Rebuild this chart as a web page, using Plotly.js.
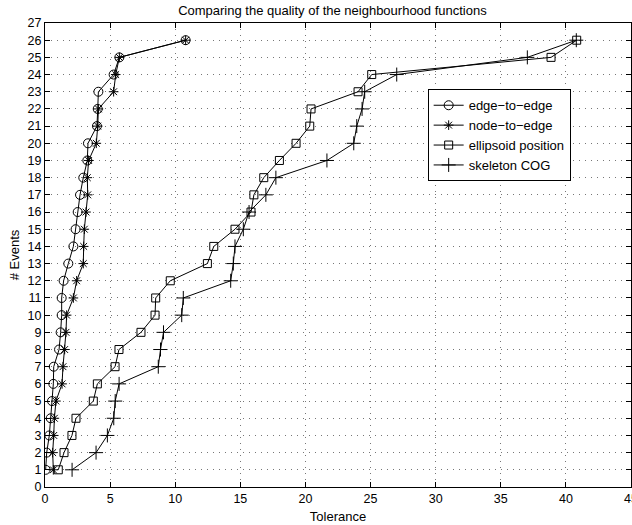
<!DOCTYPE html>
<html>
<head>
<meta charset="utf-8">
<script src="https://cdn.plot.ly/plotly-3.0.1.min.js"></script>
<style>html,body{margin:0;padding:0;background:#fff;}#chart{width:632px;height:525px;}</style>
</head>
<body>
<div id="chart"></div>
<script>
const events = [1,2,3,4,5,6,7,8,9,10,11,12,13,14,15,16,17,18,19,20,21,22,23,24,25,26];
const edgeToEdge = [0.05,0.13,0.33,0.44,0.54,0.64,0.67,1.08,1.2,1.28,1.28,1.43,1.79,2.18,2.35,2.51,2.69,2.94,3.25,3.3,3.99,4.05,4.1,5.27,5.71,10.8];
const nodeToEdge = [0.64,0.59,0.67,0.72,0.84,1.31,1.38,1.51,1.61,1.66,2.18,2.43,2.94,2.97,3.02,3.15,3.28,3.25,3.35,3.94,4.05,4.1,5.27,5.43,5.71,10.8];
const ellipsoid = [1.02,1.46,2.07,2.38,3.71,4.02,5.38,5.68,7.37,8.45,8.5,9.62,12.47,12.96,14.59,15.82,16.04,16.8,18.0,19.28,20.33,20.43,24.04,25.09,38.86,40.83];
const skeleton = [2.08,3.92,4.79,5.28,5.39,5.69,8.7,8.87,9.1,10.5,10.62,14.26,14.46,14.59,15.23,15.67,16.96,17.73,21.65,23.71,23.94,24.35,24.55,27.01,37.04,40.8];
const names = ['edge\u2212to\u2212edge','node\u2212to\u2212edge','ellipsoid position','skeleton COG'];
const xTicks = [0,5,10,15,20,25,30,35,40,45];
const yTicks = [0,1,2,3,4,5,6,7,8,9,10,11,12,13,14,15,16,17,18,19,20,21,22,23,24,25,26,27];

const series = [edgeToEdge, nodeToEdge, ellipsoid, skeleton];
const symbols = ['circle-open','asterisk-open','square-open','cross-thin-open'];
const sizes = [9,8,8,10];
const traces = series.map((s,i)=>({
  x: s, y: events, type:'scatter', mode:'lines+markers', name: names[i],
  line:{color:'#000', width:1},
  marker:{symbol:symbols[i], size:sizes[i], color:'#000', line:{color:'#000', width:1}}
}));

const fam = '"Liberation Sans", Arial, Helvetica, sans-serif';
const font = {family:fam, size:13, color:'#000'};
const tickFont = {family:fam, size:12.5, color:'#000'};
const layout = {
  width:632, height:525,
  margin:{l:45, r:1, t:23, b:38},
  paper_bgcolor:'#fff', plot_bgcolor:'#fff',
  font: font,
  title:{text:'Comparing the quality of the neighbourhood functions', font:font, x:0.526, xanchor:'center', y:0.981, yanchor:'middle'},
  showlegend:true,
  legend:{x:0.653, y:0.758, xanchor:'left', yanchor:'middle', bgcolor:'#fff', bordercolor:'#000', borderwidth:1, font:font, itemwidth:30, tracegroupgap:0},
  xaxis:{range:[0,45], tickvals:xTicks, ticktext:xTicks.map(String), ticks:'inside', ticklen:5, tickcolor:'#000',
    showline:true, linecolor:'#000', linewidth:1, mirror:'ticks', showgrid:true, gridcolor:'#777', griddash:'1px,5px', gridwidth:1,
    zeroline:false, tickfont:tickFont, ticklabeloverflow:'allow', title:{text:'Tolerance', font:font, standoff:6}},
  yaxis:{range:[0,27], tickvals:yTicks, ticktext:yTicks.map(String), ticks:'inside', ticklen:5, tickcolor:'#000',
    showline:true, linecolor:'#000', linewidth:1, mirror:'ticks', showgrid:true, gridcolor:'#777', griddash:'1px,5px', gridwidth:1,
    zeroline:false, tickfont:tickFont, title:{text:'# Events', font:font, standoff:5}}
};
Plotly.newPlot('chart', traces, layout, {staticPlot:true, displayModeBar:false});
</script>
</body>
</html>
